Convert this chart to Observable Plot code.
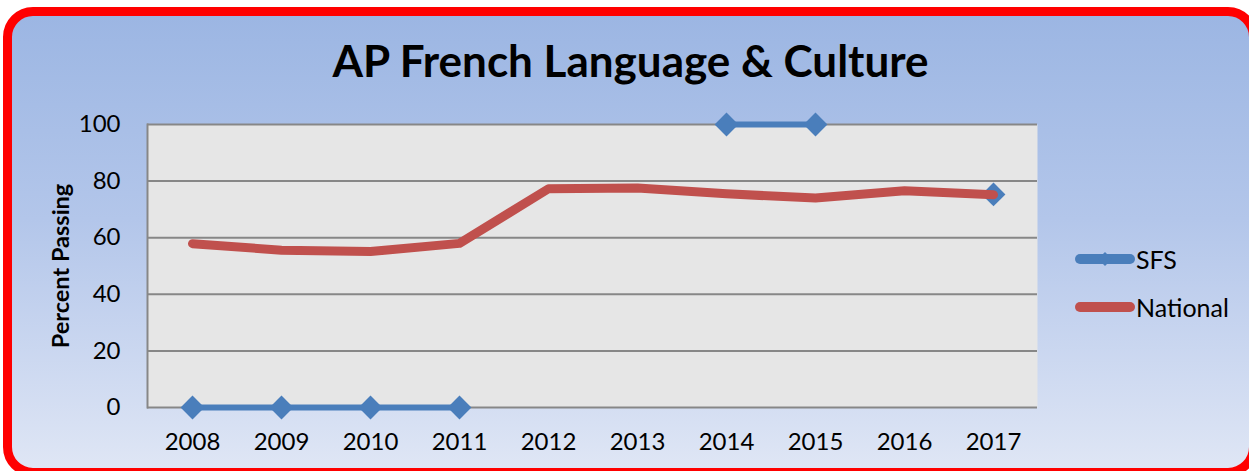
<!DOCTYPE html>
<html>
<head>
<meta charset="utf-8">
<script src="https://cdn.jsdelivr.net/npm/d3@7"></script>
<script src="https://cdn.jsdelivr.net/npm/@observablehq/plot@0.6"></script>
<style>
  html, body { margin: 0; padding: 0; width: 1249px; height: 471px; overflow: hidden; background: #fff; }
  #box {
    position: absolute; left: 3px; top: 7px; width: 1237px; height: 452px;
    border: 9px solid #ff0000; border-radius: 30px;
    background: linear-gradient(to bottom, #9cb6e3 0%, #b3c6ea 45%, #dfe6f5 100%);
  }
  #chart { position: absolute; left: 0; top: 0; }
  .title { position: absolute; left: 0; width: 1261px; top: 34px; text-align: center;
    font-family: Lato, sans-serif; font-weight: bold; font-size: 44px; line-height: 53px; color: #000; }
  .ylabel { position: absolute; left: 60px; top: 266px; transform: translate(-50%, -50%) rotate(-90deg);
    font-family: Lato, sans-serif; font-weight: bold; font-size: 23.5px; white-space: nowrap; color: #000; }
  .legend { position: absolute; left: 1075px; font-family: Lato, sans-serif; font-size: 25px; color: #000;
    display: flex; align-items: center; height: 30px; }
  .legend svg { display: block; margin-right: 1px; }
</style>
</head>
<body>
<div id="box"></div>
<div id="chart"></div>
<div class="title">AP French Language &amp; Culture</div>
<div class="ylabel">Percent Passing</div>
<div class="legend" style="top:244px"><svg width="60" height="20"><line x1="5" y1="10" x2="55" y2="10" stroke="#4a7ebb" stroke-width="10" stroke-linecap="round"/><rect x="25" y="5" width="10" height="10" fill="#4a7ebb" transform="rotate(45 30 10)"/></svg>SFS</div>
<div class="legend" style="top:292px"><svg width="60" height="20"><line x1="5" y1="10" x2="55" y2="10" stroke="#c0504d" stroke-width="10" stroke-linecap="round"/></svg>National</div>
<script>
const years = ["2008","2009","2010","2011","2012","2013","2014","2015","2016","2017"];
const sfs = [0, 0, 0, 0, null, null, 100, 100, null, 75.3];
const national = [57.9, 55.6, 55.1, 58.0, 77.3, 77.6, 75.5, 74.0, 76.6, 75.2];
const yTicks = [0, 20, 40, 60, 80, 100];

const sfsData = years.map((y, i) => ({year: y, value: sfs[i]}));
const natData = years.map((y, i) => ({year: y, value: national[i]}));

const chart = Plot.plot({
  width: 1249,
  height: 471,
  marginLeft: 147,
  marginRight: 212,
  marginTop: 124,
  marginBottom: 64,
  style: {fontFamily: "Lato, sans-serif", fontSize: "24px", color: "#000", background: "transparent"},
  x: {type: "point", domain: years, padding: 0.5},
  y: {domain: [0, 100]},
  marks: [
    Plot.frame({fill: "#e6e6e6", stroke: null}),
    Plot.gridY(yTicks, {stroke: "#878787", strokeOpacity: 1, strokeWidth: 2}),
    Plot.frame({anchor: "left", stroke: "#878787", strokeWidth: 2}),
    Plot.axisY(yTicks, {tickSize: 0, tickPadding: 27, label: null, fill: "#000"}),
    Plot.axisX({tickSize: 0, tickPadding: 25, label: null, fill: "#000"}),
    Plot.line(sfsData, {x: "year", y: "value", stroke: "#4a7ebb", strokeWidth: 6}),
    Plot.dot(sfsData.filter(d => d.value != null), {x: "year", y: "value", symbol: "square", r: 9.5, rotate: 45, fill: "#4a7ebb", stroke: null}),
    Plot.line(natData, {x: "year", y: "value", stroke: "#c0504d", strokeWidth: 9, strokeLinecap: "round", strokeLinejoin: "round"})
  ]
});
document.getElementById("chart").appendChild(chart);
</script>
</body>
</html>
